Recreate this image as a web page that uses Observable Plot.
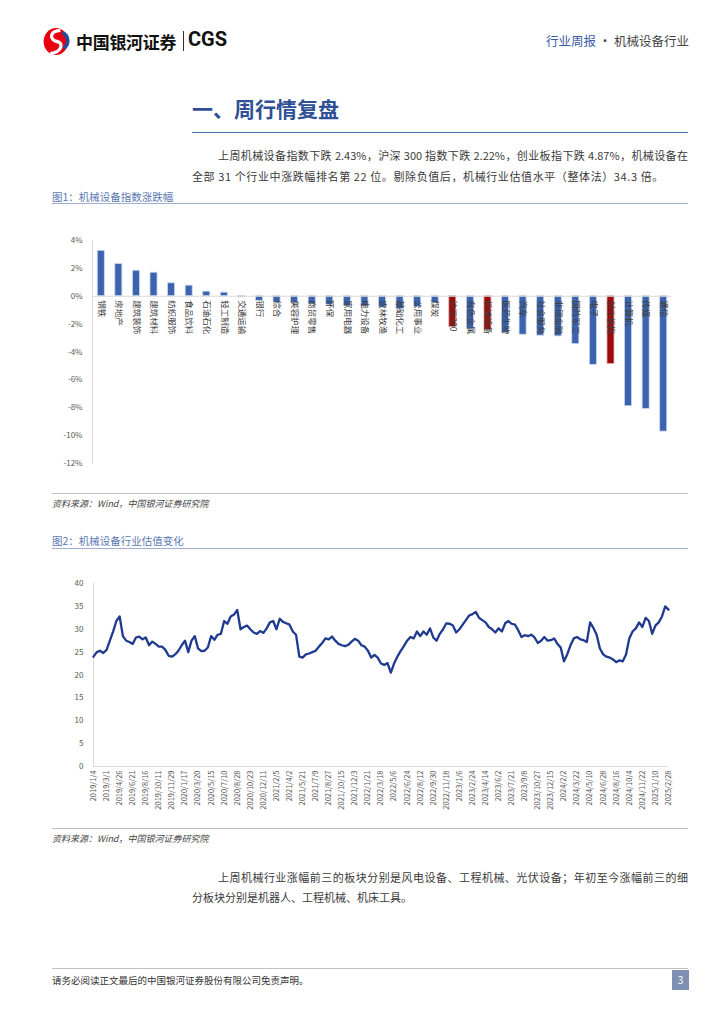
<!DOCTYPE html>
<html>
<head>
<meta charset="utf-8">
<script src="https://cdn.jsdelivr.net/npm/d3@7"></script>
<script src="https://cdn.jsdelivr.net/npm/@observablehq/plot@0.6"></script>
<style>
  html, body { margin: 0; padding: 0; background: #fff; }
  body { width: 724px; height: 1024px; position: relative; overflow: hidden;
         font-family: "Noto Sans CJK SC", "Noto Sans", sans-serif; color: #333; }
  .abs { position: absolute; white-space: nowrap; }
  .para { font-size: 11px; color: #3a3a3a; line-height: 14px; }
  .cap { font-size: 10.5px; color: #5b78b2; }
  .src { font-size: 9px; color: #444; font-style: italic; }
  .rule { position: absolute; height: 0; }
</style>
</head>
<body>
<!-- header -->
<svg class="abs" style="left:41px;top:27px" width="32" height="29" viewBox="0 0 28 26">
  <ellipse cx="13" cy="13" rx="11" ry="12" fill="#e60012"/>
  <path d="M17 3 C 6 4, 8 12, 14 13 C 20 14, 19 22, 8 24" stroke="#fff" stroke-width="3" fill="none"/>
  <path d="M19 5 C 25 8, 25 16, 20 19" stroke="#1f4e9c" stroke-width="3.2" fill="none"/>
</svg>
<div class="abs" style="left:76px;top:29px;font-size:17px;font-weight:700;color:#111;letter-spacing:-0.3px">中国银河证券</div>
<div class="abs" style="left:183px;top:31px;width:1px;height:20px;background:#333"></div>
<div class="abs" style="left:188px;top:27px;font-size:20px;font-weight:700;color:#111;font-family:Roboto,'Liberation Sans',sans-serif">CGS</div>
<div class="abs" style="left:546px;top:31px;font-size:12.5px;"><span style="color:#3a5ba8">行业周报</span><span style="color:#444"> · 机械设备行业</span></div>

<!-- section title -->
<div class="abs" style="left:192px;top:93px;font-size:21px;font-weight:700;color:#2f4f96">一、周行情复盘</div>
<div class="rule" style="left:192px;top:132px;width:496px;border-top:1.6px solid #4a6cb0"></div>

<div class="abs para" style="left:218px;top:148px;width:470px;text-align:justify;text-align-last:justify">上周机械设备指数下跌 2.43%，沪深 300 指数下跌 2.22%，创业板指下跌 4.87%，机械设备在</div>
<div class="abs para" style="left:192px;top:169px;letter-spacing:0.6px">全部 31 个行业中涨跌幅排名第 22 位。剔除负值后，机械行业估值水平（整体法）34.3 倍。</div>

<!-- figure 1 -->
<div class="abs cap" style="left:52px;top:189px">图1：机械设备指数涨跌幅</div>
<div class="rule" style="left:52px;top:203px;width:636px;border-top:1px solid #9fb0d2"></div>
<div id="bars" class="abs" style="left:0;top:230px"></div>
<div class="rule" style="left:52px;top:493px;width:636px;border-top:1px solid #bfbfbf"></div>
<div class="abs src" style="left:52px;top:497px">资料来源：Wind，中国银河证券研究院</div>

<!-- figure 2 -->
<div class="abs cap" style="left:52px;top:533px">图2：机械设备行业估值变化</div>
<div class="rule" style="left:52px;top:548px;width:636px;border-top:1px solid #9fb0d2"></div>
<div id="line" class="abs" style="left:0;top:575px"></div>
<div class="rule" style="left:52px;top:828px;width:636px;border-top:1px solid #bfbfbf"></div>
<div class="abs src" style="left:52px;top:832px">资料来源：Wind，中国银河证券研究院</div>

<div class="abs para" style="left:218px;top:870px;width:470px;text-align:justify;text-align-last:justify">上周机械行业涨幅前三的板块分别是风电设备、工程机械、光伏设备；年初至今涨幅前三的细</div>
<div class="abs para" style="left:192px;top:890px">分板块分别是机器人、工程机械、机床工具。</div>

<!-- footer -->
<div class="rule" style="left:52px;top:968px;width:636px;border-top:1px solid #bfbfbf"></div>
<div class="abs" style="left:52px;top:973px;font-size:9.5px;color:#333">请务必阅读正文最后的中国银河证券股份有限公司免责声明。</div>
<div class="abs" style="left:672px;top:970px;width:17px;height:20px;background:#7e8fb2;color:#fff;font-size:10px;text-align:center;line-height:20px">3</div>

<script>
// ---------- Figure 1 data ----------
const categories = ["钢铁","房地产","建筑装饰","建筑材料","纺织服饰","食品饮料","石油石化","轻工制造","交通运输","银行","综合","美容护理","商贸零售","环保","家用电器","电力设备","农林牧渔","基础化工","公用事业","煤炭","沪深300","有色金属","机械设备","医药生物","汽车","社会服务","非银金融","国防军工","电子","创业板指","计算机","传媒","通信"];
const changes = [3.26,2.31,1.83,1.69,0.93,0.76,0.33,0.26,-0.08,-0.33,-0.45,-0.49,-0.56,-0.62,-0.72,-0.74,-0.81,-0.94,-0.77,-0.50,-2.22,-2.35,-2.43,-2.64,-2.76,-2.83,-2.88,-3.43,-4.92,-4.87,-7.89,-8.08,-9.71];
const highlighted = ["沪深300","机械设备","创业板指"];
const barTicks = [4,2,0,-2,-4,-6,-8,-10,-12];

// ---------- Figure 2 data ----------
const dateLabels = ["2019/1/4","2019/3/1","2019/4/26","2019/6/21","2019/8/16","2019/10/11","2019/11/29","2020/1/17","2020/3/20","2020/5/15","2020/7/10","2020/8/28","2020/10/23","2020/12/11","2021/2/5","2021/4/2","2021/5/21","2021/7/9","2021/8/27","2021/10/15","2021/12/3","2022/1/21","2022/3/18","2022/5/6","2022/6/24","2022/8/12","2022/9/30","2022/11/18","2023/1/6","2023/2/24","2023/4/14","2023/6/2","2023/7/21","2023/9/8","2023/10/27","2023/12/15","2024/2/2","2024/3/22","2024/5/10","2024/6/28","2024/8/16","2024/10/4","2024/11/22","2025/1/10","2025/2/28"];
const samplesPerLabel = 4;
const peValues = [
  24.0,25.0,25.3,24.8, 25.5,27.5,29.5,31.8, 32.8,28.5,27.5,27.2, 26.8,28.2,28.4,27.8,
  28.2,26.5,27.3,26.8, 26.2,26.2,25.5,24.2, 24.0,24.5,25.3,26.5, 27.5,25.0,27.5,28.5,
  25.8,25.2,25.3,26.0, 28.5,27.7,28.8,29.0, 31.8,31.2,32.8,33.2, 34.2,30.0,30.5,30.8,
  30.0,29.3,29.0,29.6, 29.2,30.2,31.5,31.8, 30.0,32.3,31.6,31.3, 31.0,29.5,28.8,24.0,
  23.8,24.5,24.7,25.0, 25.3,26.2,27.0,28.0, 27.8,28.4,27.5,26.8, 26.5,26.3,26.6,27.3,
  27.9,27.5,26.5,26.2, 25.3,23.8,24.4,23.8, 22.5,22.2,22.6,20.5, 22.5,24.0,25.2,26.3,
  27.5,28.3,28.0,29.5, 28.5,29.5,28.8,30.2, 28.2,27.5,29.0,30.0, 31.3,31.2,30.8,29.3,
  30.0,31.0,32.0,33.0, 33.3,33.8,32.5,32.0, 31.5,30.5,30.0,29.3, 30.2,29.5,31.3,31.8,
  31.2,31.0,29.8,28.3, 28.7,28.5,28.8,28.2, 27.0,27.5,28.3,27.5, 27.6,28.0,26.8,26.0,
  23.0,24.5,26.5,28.0, 28.3,27.8,27.6,27.2, 31.5,30.3,28.8,25.8, 24.5,24.0,23.8,23.4,
  22.8,23.2,23.0,24.5, 28.0,29.5,30.2,31.5, 30.5,32.5,31.8,29.0, 30.8,31.5,32.8,35.0,
  34.3
];
const peTicks = [0,5,10,15,20,25,30,35,40];

const FONT = "'Noto Sans CJK SC', 'Noto Sans', sans-serif";

// ---------- Figure 1 chart ----------
const barData = categories.map((name, i) => ({name, value: changes[i]}));
const bars = Plot.plot({
  width: 724, height: 250,
  marginLeft: 92, marginRight: 52, marginTop: 10, marginBottom: 17,
  style: {fontFamily: FONT, background: "transparent", overflow: "visible"},
  x: {domain: categories, axis: null, paddingInner: 0.6, paddingOuter: 0.3, round: false},
  y: {domain: [-12, 4], axis: null},
  marks: [
    Plot.frame({anchor: "left", stroke: "#d9d9d9"}),
    Plot.barY(barData, {
      x: "name", y: "value",
      fill: d => highlighted.includes(d.name) ? "#9c0a0a" : "#3b63ae",
      stroke: d => highlighted.includes(d.name) ? "#e3b8b8" : "#c9d6ee",
      strokeWidth: 0.8
    }),
    Plot.ruleY([0], {stroke: "#d9d9d9"}),
    Plot.axisY({ticks: barTicks, tickFormat: d => d + "%", label: null, tickSize: 0, tickPadding: 10, fontSize: 8, color: "#595959"}),
    Plot.text(barData, {x: "name", y: 0, text: "name", rotate: 90, textAnchor: "start", dy: 4, fontSize: 8.5, fill: "#404040"})
  ]
});
document.getElementById("bars").appendChild(bars);

// ---------- Figure 2 chart ----------
const tickIdx = dateLabels.map((_, k) => k * samplesPerLabel);
const line = Plot.plot({
  width: 724, height: 250,
  marginLeft: 93, marginRight: 56, marginTop: 8, marginBottom: 59,
  style: {fontFamily: FONT, background: "transparent", overflow: "visible"},
  x: {domain: [0, peValues.length - 1], axis: null},
  y: {domain: [0, 40], axis: null},
  marks: [
    Plot.frame({anchor: "left", stroke: "#d9d9d9"}),
    Plot.ruleY([0], {stroke: "#d9d9d9"}),
    Plot.axisY({ticks: peTicks, label: null, tickSize: 0, tickPadding: 10, fontSize: 8, color: "#595959"}),
    Plot.axisX({ticks: tickIdx, tickFormat: i => dateLabels[i / samplesPerLabel], label: null, tickRotate: -90, tickSize: 0, tickPadding: 4, fontSize: 7.5, color: "#595959"}),
    Plot.lineY(peValues, {x: (d, i) => i, y: d => d, stroke: "#1f3a8f", strokeWidth: 2.3, curve: "linear"})
  ]
});
document.getElementById("line").appendChild(line);
</script>
</body>
</html>
